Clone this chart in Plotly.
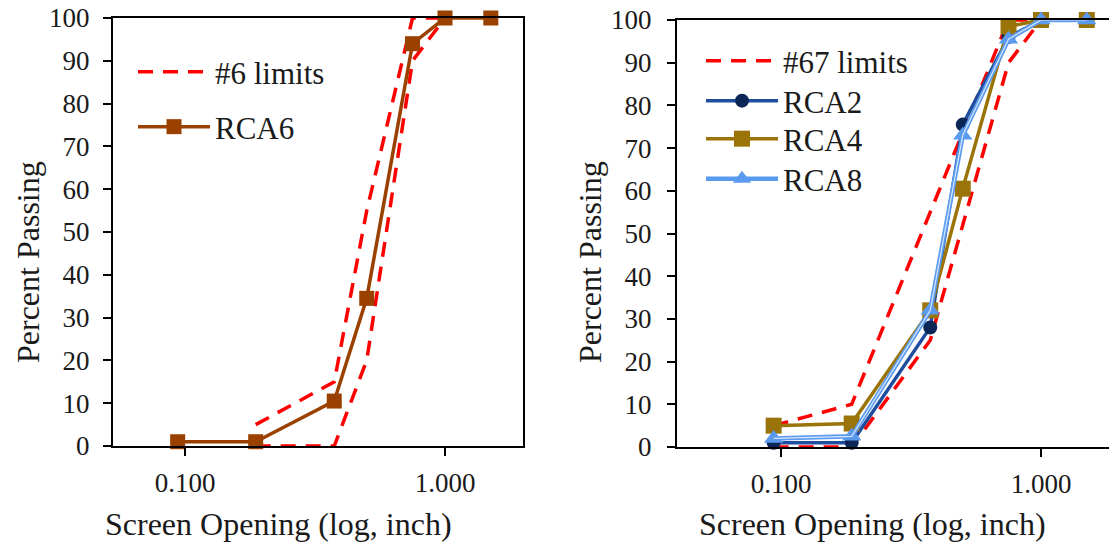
import plotly.graph_objects as go

# Sieve openings (inch)
sieve = [0.0937, 0.187, 0.375, 0.5, 0.75, 1.0, 1.5]

# Left panel: RCA6 against #6 gradation band
rca6 = [1, 1, 10.5, 34.5, 94, 100, 100]
lim6_x = [0.187, 0.375, 0.5, 0.75, 1.0]
lim6_upper = [5, 15, 55, 100, 100]
lim6_lower = [0, 0, 20, 90, 100]

# Right panel: RCA2 / RCA4 / RCA8 against #67 gradation band
rca2 = [1, 1, 28, 75.5, 96, 100, 100]
rca4 = [5, 5.5, 32, 60.5, 98.5, 100, 100]
rca8 = [2, 2.5, 32, 73, 95.5, 100, 100]
lim67_x = [0.0937, 0.187, 0.375, 0.75, 1.0]
lim67_upper = [5, 10, 55, 100, 100]
lim67_lower = [0, 0, 25, 90, 100]

xtick_vals = [0.1, 1.0]
xtick_text = ["0.100", "1.000"]
ytick_vals = list(range(0, 101, 10))

FONT = "Liberation Serif"
TXT = "#1a1a1a"
RED = "#FF0000"
DASH = "15px,10px"

W, H = 1109, 543

fig = go.Figure()

# ---- left panel ----
fig.add_trace(go.Scatter(x=lim6_x, y=lim6_upper, mode="lines", name="#6 limits",
                         line=dict(color=RED, width=3.5, dash=DASH),
                         legend="legend", xaxis="x", yaxis="y", cliponaxis=False))
fig.add_trace(go.Scatter(x=lim6_x, y=lim6_lower, mode="lines", name="#6 limits",
                         line=dict(color=RED, width=3.5, dash=DASH),
                         showlegend=False, xaxis="x", yaxis="y", cliponaxis=False))
fig.add_trace(go.Scatter(x=sieve, y=rca6, mode="lines+markers", name="RCA6",
                         line=dict(color="#9A4100", width=3.5),
                         marker=dict(symbol="square", size=15, color="#9A4100"),
                         legend="legend6", xaxis="x", yaxis="y", cliponaxis=False))

# ---- right panel ----
fig.add_trace(go.Scatter(x=lim67_x, y=lim67_upper, mode="lines", name="#67 limits",
                         line=dict(color=RED, width=3.5, dash=DASH),
                         legend="legend2", xaxis="x2", yaxis="y2", cliponaxis=False))
fig.add_trace(go.Scatter(x=lim67_x, y=lim67_lower, mode="lines", name="#67 limits",
                         line=dict(color=RED, width=3.5, dash=DASH),
                         showlegend=False, xaxis="x2", yaxis="y2", cliponaxis=False))
fig.add_trace(go.Scatter(x=sieve, y=rca2, mode="lines+markers", name="RCA2",
                         line=dict(color="#1F4E9E", width=3.5),
                         marker=dict(symbol="circle", size=14, color="#0C2658"),
                         legend="legend3", xaxis="x2", yaxis="y2", cliponaxis=False))
fig.add_trace(go.Scatter(x=sieve, y=rca4, mode="lines+markers", name="RCA4",
                         line=dict(color="#9A7409", width=3.5),
                         marker=dict(symbol="square", size=16, color="#9A7409"),
                         legend="legend4", xaxis="x2", yaxis="y2", cliponaxis=False))
fig.add_trace(go.Scatter(x=sieve, y=rca8, mode="lines+markers", name="RCA8",
                         line=dict(color="#5B9BEF", width=4.5),
                         marker=dict(symbol="triangle-up", size=17, color="#5B9BEF"),
                         legend="legend5", xaxis="x2", yaxis="y2", cliponaxis=False))
# light core of the RCA8 line
fig.add_trace(go.Scatter(x=sieve, y=rca8, mode="lines", name="RCA8",
                         line=dict(color="rgba(255,255,255,0.75)", width=1.2),
                         showlegend=False, hoverinfo="skip",
                         xaxis="x2", yaxis="y2", cliponaxis=False))

tickfont = dict(family=FONT, size=27, color=TXT)
axis_common = dict(showline=True, linecolor="black", linewidth=2,
                   showgrid=False, zeroline=False, ticks="outside",
                   ticklen=8, tickwidth=1.5, tickcolor="black", tickfont=tickfont,
                   automargin=False)

# pixel geometry of the two plot areas
L1, R1 = 113, 523
L2, R2 = 677, 1109
TOP, BOT = 18, 446

legend_font = dict(family=FONT, size=31, color=TXT)
title_font = dict(family=FONT, size=32, color=TXT)


def legend_box(x_px, top_px):
    return dict(x=x_px / W, y=1 - top_px / H, xanchor="left", yanchor="top",
                bgcolor="rgba(0,0,0,0)", font=legend_font, itemwidth=72)


fig.update_layout(
    width=W, height=H,
    margin=dict(l=0, r=0, t=0, b=0, pad=0, autoexpand=False),
    paper_bgcolor="white", plot_bgcolor="white",
    font=dict(family=FONT, color=TXT),
    xaxis=dict(type="log", domain=[L1 / W, R1 / W], range=[-1.277, 0.300],
               tickvals=xtick_vals, ticktext=xtick_text, mirror=True, anchor="y",
               ticklabelstandoff=4, **axis_common),
    yaxis=dict(domain=[1 - BOT / H, 1 - TOP / H], range=[0, 100],
               tickvals=ytick_vals, mirror=True, anchor="x",
               ticklabelstandoff=8, **axis_common),
    xaxis2=dict(type="log", domain=[L2 / W, R2 / W], range=[-1.400, 0.2615],
                tickvals=xtick_vals, ticktext=xtick_text, mirror=True, anchor="y2",
                ticklabelstandoff=4, **axis_common),
    yaxis2=dict(domain=[1 - (BOT + 1) / H, 1 - (TOP + 2) / H], range=[0, 100],
                tickvals=ytick_vals, mirror=False, anchor="x2",
                ticklabelstandoff=10, **axis_common),
    legend=legend_box(133, 45),
    legend6=legend_box(133, 100),
    legend2=legend_box(701, 34),
    legend3=legend_box(701, 74),
    legend4=legend_box(701, 112),
    legend5=legend_box(701, 152),
    annotations=[
        dict(text="Percent Passing", x=28 / W, y=1 - 262 / H, xref="paper", yref="paper",
             xanchor="center", yanchor="middle",
             textangle=-90, showarrow=False, font=title_font),
        dict(text="Percent Passing", x=590 / W, y=1 - 262 / H, xref="paper", yref="paper",
             xanchor="center", yanchor="middle",
             textangle=-90, showarrow=False, font=title_font),
        dict(text="Screen Opening (log, inch)", x=278 / W, y=1 - 524 / H, xref="paper",
             yref="paper", xanchor="center", yanchor="middle",
             showarrow=False, font=title_font),
        dict(text="Screen Opening (log, inch)", x=873 / W, y=1 - 524 / H, xref="paper",
             yref="paper", xanchor="center", yanchor="middle",
             showarrow=False, font=title_font),
    ],
)

fig.write_html("out.html")
